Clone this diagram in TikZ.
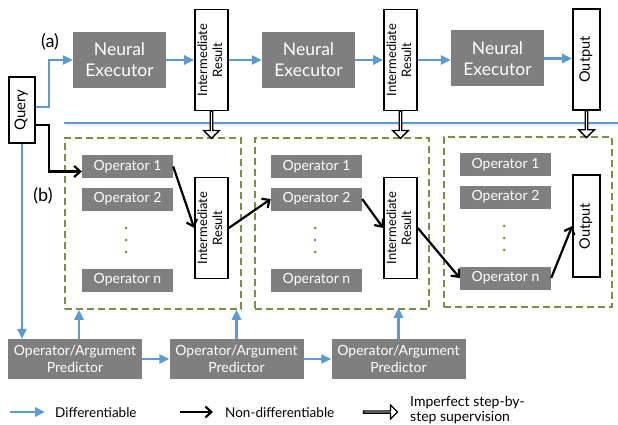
\documentclass[tikz,border=0pt]{standalone}
\usepackage{fontspec}
\setmainfont{Lato}
\usetikzlibrary{arrows.meta,shapes.arrows,calc}

\definecolor{boxgray}{RGB}{127,127,127}
\definecolor{flowblue}{RGB}{91,155,213}
\definecolor{dashgreen}{RGB}{118,146,60}

\newcommand{\vtext}[1]{\rotatebox{90}{\begin{tabular}{@{}c@{}}#1\end{tabular}}}

\tikzset{
  graybox/.style={fill=boxgray, text=white, inner sep=0pt, align=center},
  exec/.style={graybox, minimum width=93pt, minimum height=56pt, font=\fontsize{17.5}{21}\selectfont},
  oper/.style={graybox, minimum width=91pt, minimum height=23pt, font=\fontsize{14}{16}\selectfont},
  pred/.style={graybox, minimum width=134pt, minimum height=40pt, font=\fontsize{14}{17}\selectfont},
  result/.style={draw, line width=1.6pt, fill=white, inner sep=0pt, minimum width=33pt, minimum height=101pt, font=\fontsize{13}{15}\selectfont},
  group/.style={draw=dashgreen, line width=1.5pt, dash pattern=on 7pt off 4pt},
  diff/.style={flowblue, line width=2.5pt, -{Triangle[length=10pt, width=9pt]}},
  nondiff/.style={black, line width=2.2pt, -{Straight Barb[length=6pt, width=11pt]}},
  suparrow/.style={single arrow, draw, fill=white, line width=1.3pt, inner sep=0pt, minimum width=16pt, single arrow head extend=3.5pt, single arrow head indent=0pt},
  legend/.style={anchor=west, inner sep=0pt, font=\fontsize{13.5}{15}\selectfont, align=left}
}

\begin{document}
\begin{tikzpicture}[x=1pt, y=-1pt]
    \useasboundingbox (0,0) rectangle (618,425);

    % (a) neural executor chain
    \node[font=\fontsize{18}{21}\selectfont] (lbla) at (50,42) {(a)};
    \node[result, minimum width=26pt, minimum height=66pt, font=\fontsize{15}{17}\selectfont] (query) at (22,110) {\vtext{Query}};
    \node[exec] (ne1) at (119.5,60) {Neural\\Executor};
    \node[result] (ira1) at (211.5,60) {\vtext{Intermediate\\Result}};
    \node[exec] (ne2) at (308.5,60) {Neural\\Executor};
    \node[result] (ira2) at (400.5,60) {\vtext{Intermediate\\Result}};
    \node[exec] (ne3) at (497.5,58.5) {Neural\\Executor};
    \node[result, minimum width=27pt, font=\fontsize{14.5}{17}\selectfont] (outa) at (586.5,59.5) {\vtext{Output}};

    \draw[diff] ([yshift=3pt]query.east) -- ++(13,0) |- (ne1.west);
    \draw[diff] (ne1.east) -- (ira1.west);
    \draw[diff] (ira1.east) -- (ne2.west);
    \draw[diff] (ne2.east) -- (ira2.west);
    \draw[diff] (ira2.east) -- (ne3.west |- ira2.east);
    \draw[diff] (ne3.east) -- (outa.west |- ne3.east);

    % Separator
    \draw[black!7, line width=3pt] (66,125) -- (618,125);
    \draw[flowblue, line width=1.5pt] (64,123) -- (618,123);

    % (b) operator groups
    \node[font=\fontsize{18}{21}\selectfont] (lblb) at (43,196) {(b)};
    \node[group, minimum width=176pt, minimum height=171pt] (grp1) at (153,223.5) {};
    \node[group, minimum width=174pt, minimum height=171pt] (grp2) at (342,223.5) {};
    \node[group, minimum width=168pt, minimum height=170pt] (grp3) at (528,222) {};

    \foreach \g/\x/\y in {1/127.5/0, 2/316.5/0, 3/505.5/-2} {
        \node[oper] (op\g1) at (\x,166.5+\y) {Operator 1};
        \node[oper] (op\g2) at (\x,199+\y) {Operator 2};
        \node[oper] (op\g n) at (\x,280+\y) {Operator n};
        \foreach \d in {228,240,252}
            \fill[dashgreen] (\x-1.5,\d+\y) circle (1.5pt);
    }

    \node[result] (irb1) at (211.5,228) {\vtext{Intermediate\\Result}};
    \node[result] (irb2) at (400.5,228) {\vtext{Intermediate\\Result}};
    \node[result, minimum width=27pt, minimum height=102pt, font=\fontsize{14.5}{17}\selectfont] (outb) at (586.5,226) {\vtext{Output}};

    \draw[nondiff] ([yshift=-15pt]query.east) -- ++(13,0) |- ([yshift=-5pt]op11.west);
    \draw[nondiff] (op11.east) -- (irb1.west);
    \draw[nondiff] (irb1.east) -- (op22.west);
    \draw[nondiff] (op22.east) -- (irb2.west);
    \draw[nondiff] (irb2.east) -- (op3n.west);
    \draw[nondiff] (op3n.east) -- (outb.west);

    % Imperfect supervision
    \node[suparrow, minimum height=27pt, shape border rotate=270] (sup1) at ($(ira1.south)!0.5!(ira1.south |- grp1.north)$) {};
    \node[suparrow, minimum height=27pt, shape border rotate=270] (sup2) at ($(ira2.south)!0.5!(ira2.south |- grp2.north)$) {};
    \node[suparrow, minimum height=27pt, shape border rotate=270] (sup3) at ($(outa.south)!0.5!(outa.south |- grp3.north)$) {};

    % Predictors
    \node[pred] (pred1) at (75,359) {Operator/Argument\\Predictor};
    \node[pred] (pred2) at (236.5,359) {Operator/Argument\\Predictor};
    \node[pred] (pred3) at (398.5,359) {Operator/Argument\\Predictor};

    \draw[diff] (query.south) -- (query.south |- pred1.north);
    \draw[diff] (pred1.east) -- (pred2.west);
    \draw[diff] (pred2.east) -- (pred3.west);
    \draw[diff] ([xshift=4pt]pred1.north) -- ([xshift=4pt]pred1.north |- grp1.south);
    \draw[diff] (pred2.north) -- (pred2.north |- grp2.south);
    \draw[diff] (pred3.north) -- (pred3.north |- grp3.south);

    % Legend
    \coordinate (lg1a) at (10,412);
    \coordinate (lg1b) at (45,412);
    \coordinate (lg2a) at (180,412);
    \coordinate (lg2b) at (213,412);
    \draw[diff] (lg1a) -- (lg1b);
    \node[legend] (txt1) at (55,413) {Differentiable};
    \draw[nondiff] (lg2a) -- (lg2b);
    \node[legend] (txt2) at (225,413) {Non-differentiable};
    \node[suparrow, minimum height=34pt, minimum width=14pt] (lg3) at (380,412) {};
    \node[legend, font=\fontsize{14}{15}\selectfont] (txt3) at (410,410) {Imperfect step-by-\\step supervision};
\end{tikzpicture}
\end{document}
